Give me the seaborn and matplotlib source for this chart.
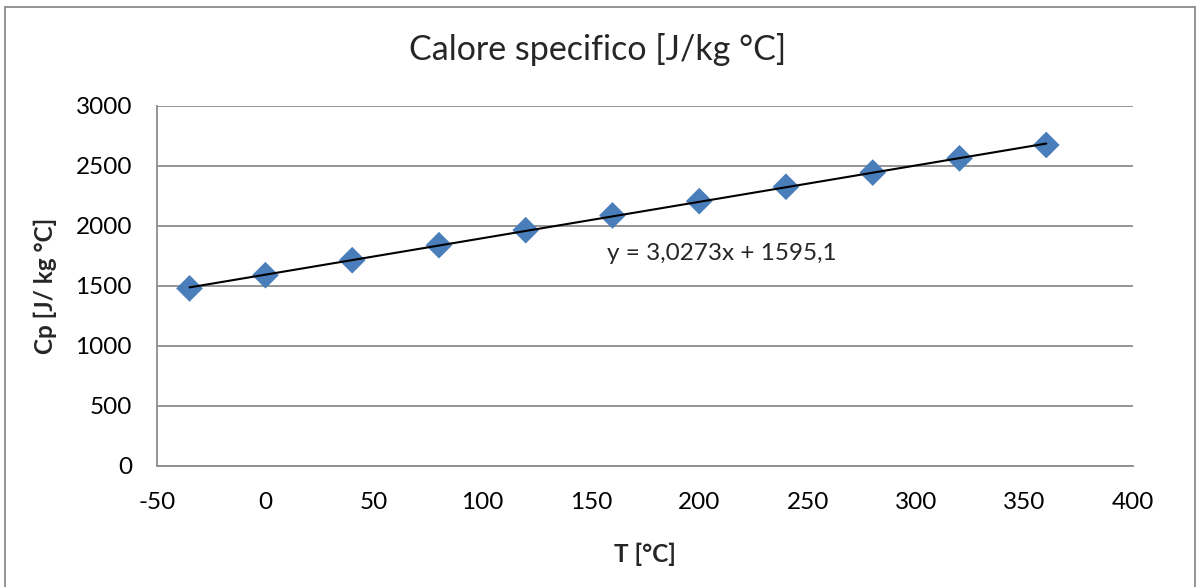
import matplotlib
matplotlib.use("Agg")
import matplotlib.pyplot as plt
import seaborn as sns
import pandas as pd
from matplotlib.patches import Rectangle

# Data
temperature = [-35, 0, 40, 80, 120, 160, 200, 240, 280, 320, 360]
cp_values = [1480, 1590, 1715, 1840, 1965, 2088, 2207, 2327, 2445, 2564, 2675]
x_ticks = [-50, 0, 50, 100, 150, 200, 250, 300, 350, 400]
y_ticks = [0, 500, 1000, 1500, 2000, 2500, 3000]
title_text = "Calore specifico [J/kg °C]"
x_label = "T [°C]"
y_label = "Cp [J/ kg °C]"
equation_text = "y = 3,0273x + 1595,1"

df = pd.DataFrame({"T": temperature, "Cp": cp_values})

sns.set_style("white")
plt.rcParams["font.family"] = ["Lato", "DejaVu Sans"]

W, H = 1196, 587
fig = plt.figure(figsize=(W / 100, H / 100), dpi=100)
ax = fig.add_axes([157 / W, (H - 466) / H, (1133 - 157) / W, (466 - 106) / H])

grid_col = "#8c8c8c"
fs = 17.5

sns.regplot(
    data=df, x="T", y="Cp", ax=ax, ci=None, marker="D",
    scatter_kws=dict(s=185, color="#4a7ebb", edgecolors="none", alpha=1, zorder=3),
    line_kws=dict(color="black", lw=1.5, zorder=4),
)

ax.set_xlim(-50, 400)
ax.set_ylim(0, 3000)
ax.set_xticks(x_ticks)
ax.set_yticks(y_ticks)
ax.set_xticklabels([str(v) for v in x_ticks])
ax.set_yticklabels([str(v) for v in y_ticks])
ax.tick_params(axis="both", length=0, labelsize=fs, colors="black")
ax.tick_params(axis="y", pad=18)
ax.tick_params(axis="x", pad=19)

ax.yaxis.grid(True, color=grid_col, lw=1.3)
ax.xaxis.grid(False)
ax.set_axisbelow(True)
for side in ["top", "right"]:
    ax.spines[side].set_visible(False)
for side in ["left", "bottom"]:
    ax.spines[side].set_color(grid_col)
    ax.spines[side].set_linewidth(1.3)

ax.set_xlabel(x_label, fontsize=fs, fontweight="bold")
ax.set_ylabel(y_label, fontsize=fs, fontweight="bold")
ax.xaxis.set_label_coords(0.5, (466 - 543) / 360)
ax.yaxis.set_label_coords((57 - 157) / 976, 0.5)

ax.text(157.5, 1775, equation_text, fontsize=fs, ha="left", va="center")

fig.text(598 / W, 1 - 50 / H, title_text, fontsize=24.5, ha="center", va="center")

fig.patches.append(Rectangle((5 / W, -0.02), (1195 - 5) / W, 1.02 - 7 / H,
                             transform=fig.transFigure, fill=False,
                             edgecolor=grid_col, lw=1.3))

fig.savefig("out.png", dpi=100)
